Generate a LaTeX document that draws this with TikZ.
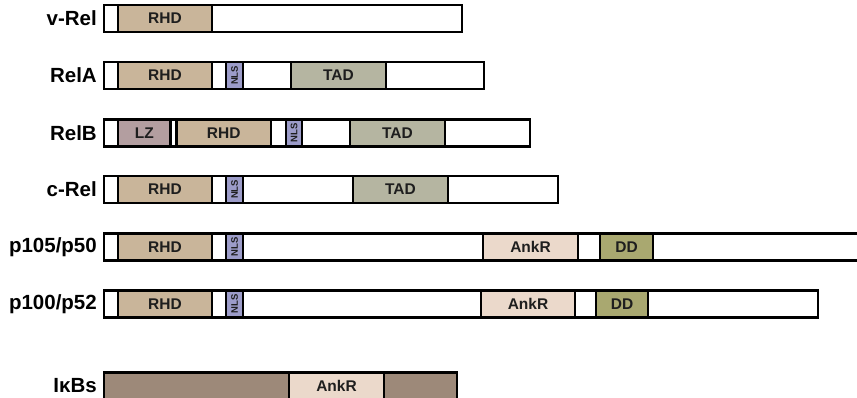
\documentclass[tikz,border=0pt]{standalone}
\usepackage{fontspec}
\setmainfont{Liberation Sans}
\definecolor{rhdc}{HTML}{C9B59A}
\definecolor{lzc}{HTML}{B39EA0}
\definecolor{tadc}{HTML}{B5B5A1}
\definecolor{nlsc}{HTML}{9C9CC9}
\definecolor{ankc}{HTML}{EBD9CB}
\definecolor{ddc}{HTML}{A9A870}
\definecolor{ikbc}{HTML}{9D8979}
\definecolor{txtc}{HTML}{1E1E1E}
\tikzset{
  seg/.style={draw=black, line width=2.7pt, inner sep=0pt, minimum height=27pt,
    font=\fontsize{15.5}{15.5}\selectfont\bfseries, text=txtc},
  lbl/.style={anchor=east, inner sep=0pt, font=\fontsize{20.5}{20.5}\selectfont\bfseries},
  nlstext/.style={inner sep=0pt, font=\fontsize{9.5}{9.5}\selectfont\bfseries, rotate=90, text=txtc}
}
\newcommand\dseg[6]{\node[seg,#5,minimum width={#3pt-#2pt}] (#1) at ({(#2+#3)/2},#4) {#6};}
\begin{document}
\begin{tikzpicture}[x=1pt,y=-1pt]
\useasboundingbox (0,0) rectangle (857,398);
% v-Rel
\node[lbl] (l1) at (97,18.5) {v-Rel};
\dseg{a1}{104}{118}{18.5}{fill=white}{}
\dseg{a2}{118}{212}{18.5}{fill=rhdc}{RHD}
\dseg{a3}{212}{462}{18.5}{fill=white}{}
% RelA
\node[lbl] (l2) at (97,75.5) {RelA};
\dseg{b1}{104}{118}{75.5}{fill=white}{}
\dseg{b2}{118}{212}{75.5}{fill=rhdc}{RHD}
\dseg{b3}{212}{226}{75.5}{fill=white}{}
\dseg{b4}{226}{243}{75.5}{fill=nlsc}{}
\node[nlstext] (b4t) at (b4.center) {NLS};
\dseg{b5}{243}{291}{75.5}{fill=white}{}
\dseg{b6}{291}{386}{75.5}{fill=tadc}{TAD}
\dseg{b7}{386}{484}{75.5}{fill=white}{}
% RelB
\node[lbl] (l3) at (97,133) {RelB};
\dseg{c1}{104}{118}{133}{fill=white}{}
\dseg{c2}{118}{170.5}{133}{fill=lzc}{LZ}
\dseg{c3}{170.5}{176.5}{133}{fill=white}{}
\dseg{c4}{176.5}{271}{133}{fill=rhdc}{RHD}
\dseg{c5}{271}{286}{133}{fill=white}{}
\dseg{c6}{286}{302}{133}{fill=nlsc}{}
\node[nlstext] (c6t) at (c6.center) {NLS};
\dseg{c7}{302}{350}{133}{fill=white}{}
\dseg{c8}{350}{445}{133}{fill=tadc}{TAD}
\dseg{c9}{445}{530}{133}{fill=white}{}
% c-Rel
\node[lbl] (l4) at (97,189.5) {c-Rel};
\dseg{d1}{104}{118}{189.5}{fill=white}{}
\dseg{d2}{118}{212}{189.5}{fill=rhdc}{RHD}
\dseg{d3}{212}{226}{189.5}{fill=white}{}
\dseg{d4}{226}{243}{189.5}{fill=nlsc}{}
\node[nlstext] (d4t) at (d4.center) {NLS};
\dseg{d5}{243}{353}{189.5}{fill=white}{}
\dseg{d6}{353}{448}{189.5}{fill=tadc}{TAD}
\dseg{d7}{448}{558}{189.5}{fill=white}{}
% p105/p50
\node[lbl] (l5) at (97,247) {p105/p50};
\dseg{e1}{104}{118}{247}{fill=white}{}
\dseg{e2}{118}{212}{247}{fill=rhdc}{RHD}
\dseg{e3}{212}{226}{247}{fill=white}{}
\dseg{e4}{226}{243}{247}{fill=nlsc}{}
\node[nlstext] (e4t) at (e4.center) {NLS};
\dseg{e5}{243}{483}{247}{fill=white}{}
\dseg{e6}{483}{578}{247}{fill=ankc}{AnkR}
\dseg{e7}{578}{600}{247}{fill=white}{}
\dseg{e8}{600}{653}{247}{fill=ddc}{DD}
\dseg{e9}{653}{870}{247}{fill=white}{}
% p100/p52
\node[lbl] (l6) at (97,304) {p100/p52};
\dseg{f1}{104}{118}{304}{fill=white}{}
\dseg{f2}{118}{212}{304}{fill=rhdc}{RHD}
\dseg{f3}{212}{226}{304}{fill=white}{}
\dseg{f4}{226}{243}{304}{fill=nlsc}{}
\node[nlstext] (f4t) at (f4.center) {NLS};
\dseg{f5}{243}{481}{304}{fill=white}{}
\dseg{f6}{481}{575}{304}{fill=ankc}{AnkR}
\dseg{f7}{575}{596}{304}{fill=white}{}
\dseg{f8}{596}{648}{304}{fill=ddc}{DD}
\dseg{f9}{648}{818}{304}{fill=white}{}
% IkBs
\node[lbl] (l7) at (97,385.5) {IκBs};
\dseg{g1}{104}{289}{386}{fill=ikbc}{}
\dseg{g2}{289}{384}{386}{fill=ankc}{AnkR}
\dseg{g3}{384}{457}{386}{fill=ikbc}{}
\end{tikzpicture}
\end{document}
